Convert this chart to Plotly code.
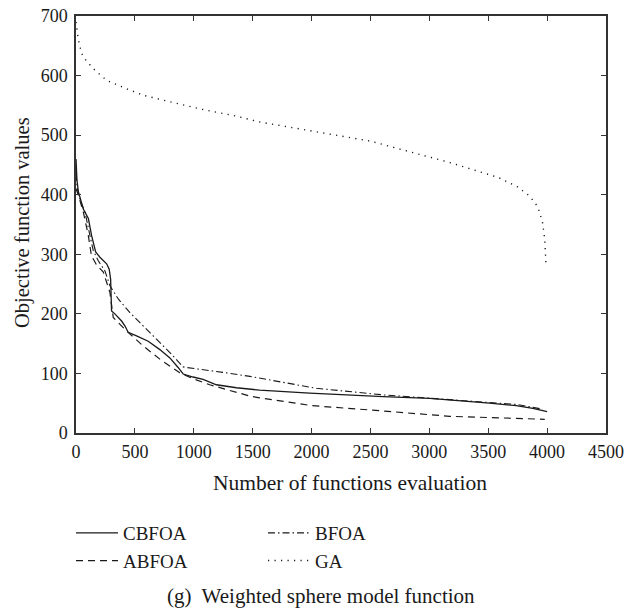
import plotly.graph_objects as go

# ---- data ----
cbfoa_x = [0, 8, 20, 62, 105, 133, 167, 203, 260, 282, 294, 302, 330, 387, 415, 443, 514, 613, 712, 797, 867, 910, 994, 1079, 1192, 1362, 1559, 1983, 2607, 3003, 3511, 3737, 3879, 4000]
cbfoa_y = [460, 425, 405, 376, 360, 331, 304, 295, 284, 275, 258, 205, 200, 188, 180, 169, 163, 154, 140, 126, 110, 99, 94, 90, 81, 76, 72, 67, 61, 58, 50, 46, 41.5, 36]

bfoa_x = [0, 11, 40, 76, 119, 147, 189, 246, 288, 359, 458, 571, 684, 797, 910, 938, 1277, 1477, 2042, 2607, 3172, 3737, 3963]
bfoa_y = [435, 410, 388, 371, 331, 306, 289, 272, 247, 225, 202, 180, 157, 135, 111, 110, 101, 95, 75, 64, 56, 48, 40]

abfoa_x = [0, 20, 62, 105, 133, 147, 175, 232, 288, 316, 415, 571, 712, 881, 994, 1136, 1277, 1477, 1559, 2000, 2607, 3172, 3980]
abfoa_y = [410, 399, 371, 331, 295, 292, 282, 270, 236, 194, 174, 146, 124, 101, 91, 81, 73, 62, 59, 46, 37, 28, 23]

ga_x = [0, 5, 20, 48, 90, 161, 260, 402, 571, 798, 1053, 1336, 1562, 2000, 2500, 2779, 3175, 3585, 3750, 3850, 3920, 3960, 3980, 3990]
ga_y = [690, 682, 660, 637, 624, 609, 592, 580, 567, 556, 544, 533, 522, 507, 490, 475, 454, 429, 413, 398, 380, 355, 325, 285]

x_ticks = [0, 500, 1000, 1500, 2000, 2500, 3000, 3500, 4000, 4500]
y_ticks = [0, 100, 200, 300, 400, 500, 600, 700]

FONT = "Liberation Serif"
INK = "#1a1a1a"

fig = go.Figure()
fig.add_trace(go.Scatter(x=cbfoa_x, y=cbfoa_y, mode="lines", name="CBFOA", legend="legend",
                         line=dict(color=INK, width=1.3)))
fig.add_trace(go.Scatter(x=abfoa_x, y=abfoa_y, mode="lines", name="ABFOA", legend="legend",
                         line=dict(color=INK, width=1.2, dash="7px,5px")))
fig.add_trace(go.Scatter(x=bfoa_x, y=bfoa_y, mode="lines", name="BFOA", legend="legend2",
                         line=dict(color=INK, width=1.1, dash="7px,3px,1.5px,3px")))
fig.add_trace(go.Scatter(x=ga_x, y=ga_y, mode="lines", name="GA", legend="legend2",
                         line=dict(color=INK, width=1.4, dash="1.2px,5.3px")))

W, H = 629, 609
PLOT_L, PLOT_R, PLOT_T, PLOT_B = 76, 606, 16, 433   # page pixels of plot box
L, T, R, B = PLOT_L, PLOT_T, W - PLOT_R, H - PLOT_B
pw, ph = PLOT_R - PLOT_L, PLOT_B - PLOT_T

def px(xp):
    return (xp - PLOT_L) / pw

def py(yp):
    return (PLOT_B - yp) / ph

axis_common = dict(showline=True, linecolor="#333333", linewidth=1.5, mirror="ticks",
                   ticks="inside", ticklen=5, tickwidth=1.3, tickcolor="#333333",
                   showgrid=False, zeroline=False,
                   tickfont=dict(family=FONT, size=18, color=INK))

legend_common = dict(orientation="v", xanchor="left", yanchor="top", itemwidth=42,
                     font=dict(family=FONT, size=19, color=INK), bgcolor="rgba(0,0,0,0)",
                     tracegroupgap=0)

fig.update_layout(
    width=W, height=H,
    margin=dict(l=L, r=R, t=T, b=B, autoexpand=False),
    paper_bgcolor="white", plot_bgcolor="white",
    font=dict(family=FONT, color=INK),
    xaxis=dict(range=[0, 4500], tickvals=x_ticks, ticktext=[str(v) for v in x_ticks],
               ticklabelstandoff=2, **axis_common),
    yaxis=dict(range=[0, 700], tickvals=y_ticks, ticktext=[str(v) for v in y_ticks],
               ticklabelstandoff=3, **axis_common),
    showlegend=True,
    legend=dict(x=px(71), y=py(514), **legend_common),
    legend2=dict(x=px(263), y=py(514), **legend_common),
    annotations=[
        dict(text="Number of functions evaluation", xref="paper", yref="paper",
             x=px(350), y=py(483), xanchor="center", yanchor="middle", showarrow=False,
             font=dict(family=FONT, size=21.5, color=INK)),
        dict(text="Objective function values", xref="paper", yref="paper",
             x=px(22), y=py(223), xanchor="center", yanchor="middle", showarrow=False,
             textangle=-90, font=dict(family=FONT, size=20.5, color=INK)),
        dict(text="(g)  Weighted sphere model function", xref="paper", yref="paper",
             x=px(321), y=py(596), xanchor="center", yanchor="middle", showarrow=False,
             font=dict(family=FONT, size=21, color=INK)),
    ],
)

fig.write_html("out.html", config={"displayModeBar": False},
               post_script="document.body.style.margin='0px';document.body.style.overflow='hidden';")
